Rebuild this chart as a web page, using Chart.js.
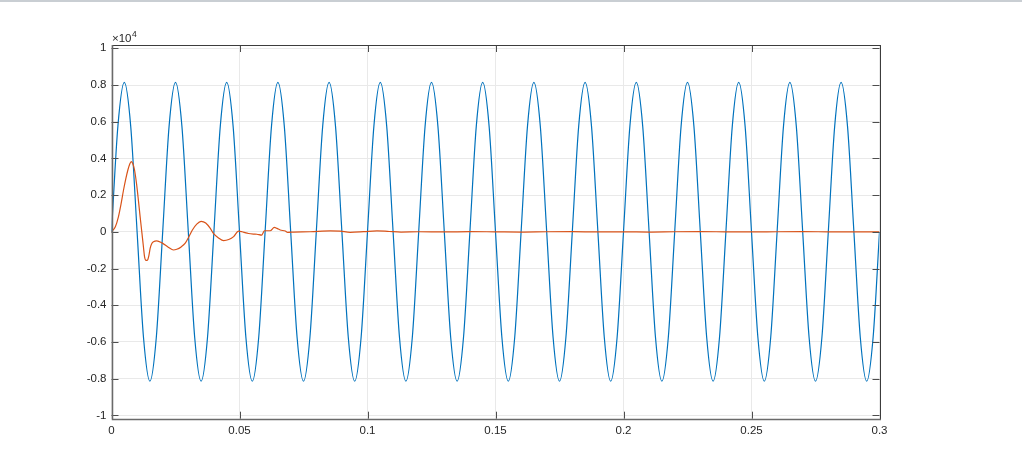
<!DOCTYPE html>
<html>
<head>
<meta charset="utf-8">
<script src="https://cdn.jsdelivr.net/npm/chart.js@4/dist/chart.umd.min.js"></script>
<style>
  html, body { margin: 0; padding: 0; background: #ffffff; }
  #wrap { position: relative; width: 1022px; height: 459px; }
  #topline { position: absolute; left: 0; top: 0; width: 1022px; height: 2px; background: #c9ced3; }
  canvas { display: block; }
</style>
</head>
<body>
<div id="wrap">
  <canvas id="c" width="1022" height="459"></canvas>
  <div id="topline"></div>
</div>
<script>
// ---- Data ----
const xTickValues = [0, 0.05, 0.1, 0.15, 0.2, 0.25, 0.3];
const xTickLabels = ['0', '0.05', '0.1', '0.15', '0.2', '0.25', '0.3'];
const yTickValues = [-10000, -8000, -6000, -4000, -2000, 0, 2000, 4000, 6000, 8000, 10000];
const yTickLabels = ['-1', '-0.8', '-0.6', '-0.4', '-0.2', '0', '0.2', '0.4', '0.6', '0.8', '1'];
const yExponentLabel = '\u00d710';
const yExponentPower = '4';

// Blue series: samples every 1/8 period
const blueT = [
  0, 0.0025, 0.005, 0.0075, 0.01, 0.0125, 0.015, 0.0175,
  0.02, 0.0225, 0.025, 0.0275, 0.03, 0.0325, 0.035, 0.0375,
  0.04, 0.0425, 0.045, 0.0475, 0.05, 0.0525, 0.055, 0.0575,
  0.06, 0.0625, 0.065, 0.0675, 0.07, 0.0725, 0.075, 0.0775,
  0.08, 0.0825, 0.085, 0.0875, 0.09, 0.0925, 0.095, 0.0975,
  0.1, 0.1025, 0.105, 0.1075, 0.11, 0.1125, 0.115, 0.1175,
  0.12, 0.1225, 0.125, 0.1275, 0.13, 0.1325, 0.135, 0.1375,
  0.14, 0.1425, 0.145, 0.1475, 0.15, 0.1525, 0.155, 0.1575,
  0.16, 0.1625, 0.165, 0.1675, 0.17, 0.1725, 0.175, 0.1775,
  0.18, 0.1825, 0.185, 0.1875, 0.19, 0.1925, 0.195, 0.1975,
  0.2, 0.2025, 0.205, 0.2075, 0.21, 0.2125, 0.215, 0.2175,
  0.22, 0.2225, 0.225, 0.2275, 0.23, 0.2325, 0.235, 0.2375,
  0.24, 0.2425, 0.245, 0.2475, 0.25, 0.2525, 0.255, 0.2575,
  0.26, 0.2625, 0.265, 0.2675, 0.27, 0.2725, 0.275, 0.2775,
  0.28, 0.2825, 0.285, 0.2875, 0.29, 0.2925, 0.295, 0.2975,
  0.3
];
const blueY = [
  0, 5760, 8140, 5760, 0, -5760, -8140, -5760,
  0, 5760, 8140, 5760, 0, -5760, -8140, -5760,
  0, 5760, 8140, 5760, 0, -5760, -8140, -5760,
  0, 5760, 8140, 5760, 0, -5760, -8140, -5760,
  0, 5760, 8140, 5760, 0, -5760, -8140, -5760,
  0, 5760, 8140, 5760, 0, -5760, -8140, -5760,
  0, 5760, 8140, 5760, 0, -5760, -8140, -5760,
  0, 5760, 8140, 5760, 0, -5760, -8140, -5760,
  0, 5760, 8140, 5760, 0, -5760, -8140, -5760,
  0, 5760, 8140, 5760, 0, -5760, -8140, -5760,
  0, 5760, 8140, 5760, 0, -5760, -8140, -5760,
  0, 5760, 8140, 5760, 0, -5760, -8140, -5760,
  0, 5760, 8140, 5760, 0, -5760, -8140, -5760,
  0, 5760, 8140, 5760, 0, -5760, -8140, -5760,
  0, 5760, 8140, 5760, 0, -5760, -8140, -5760,
  0
];

// Orange series: decaying transient
const orangeT = [
  0, 0.0015, 0.0027, 0.0037, 0.0047, 0.0056, 0.0064, 0.0071, 0.0077, 0.0083,
  0.009, 0.0098, 0.0105, 0.0112, 0.0119, 0.0125, 0.0129, 0.0133, 0.0138, 0.0142,
  0.0146, 0.0151, 0.0157, 0.0164, 0.0177, 0.0197, 0.0223, 0.0242, 0.0255, 0.0272,
  0.0288, 0.0303, 0.0316, 0.0333, 0.035, 0.0368, 0.0386, 0.0398, 0.0418, 0.0438,
  0.0458, 0.0477, 0.0496, 0.051, 0.0525, 0.0535, 0.0555, 0.0568, 0.0587, 0.0592,
  0.0597, 0.062, 0.0636, 0.0646, 0.0659, 0.0679, 0.0688, 0.0711, 0.0776, 0.0854,
  0.0893, 0.0932, 0.0985, 0.1037, 0.1085, 0.1131, 0.12, 0.13, 0.14, 0.15,
  0.16, 0.17, 0.18, 0.19, 0.2, 0.21, 0.22, 0.23, 0.24, 0.25,
  0.26, 0.27, 0.28, 0.29, 0.3
];
const orangeY = [
  0, 280, 820, 1500, 2280, 2900, 3370, 3680, 3830, 3720,
  3370, 2600, 1730, 800, -80, -850, -1350, -1530, -1550, -1500,
  -1300, -900, -650, -540, -490, -600, -850, -990, -950, -820,
  -620, -250, 100, 420, 570, 480, 190, -80, -330, -480,
  -420, -260, 40, 5, -60, -90, -120, -130, -180, -60,
  60, 60, 245, 190, 98, 44, -27, -10, 5, 55,
  40, -25, 10, 55, 20, -10, 5, -5, 10, 0,
  -10, 5, 10, -5, 0, -10, 5, 10, 0, -5,
  5, 10, 0, -5, 0
];

// ---- Chart ----
const TEXT = '#262626';
const FONT = "'Liberation Sans', Arial, sans-serif";

const framePlugin = {
  id: 'frame',
  afterDatasetsDraw(chart) {
    const { ctx, chartArea: a, scales } = chart;
    const xs = scales.x, ys = scales.y;
    ctx.save();
    // tick marks (inside, all four sides)
    ctx.strokeStyle = '#4d4d4d';
    ctx.lineWidth = 1;
    ctx.beginPath();
    xs.ticks.forEach(t => {
      const px = Math.round(xs.getPixelForValue(t.value)) + 0.5;
      ctx.moveTo(px, a.bottom); ctx.lineTo(px, a.bottom - 7);
      ctx.moveTo(px, a.top); ctx.lineTo(px, a.top + 7);
    });
    ys.ticks.forEach(t => {
      const py = Math.round(ys.getPixelForValue(t.value)) + 0.5;
      ctx.moveTo(a.left, py); ctx.lineTo(a.left + 7, py);
      ctx.moveTo(a.right, py); ctx.lineTo(a.right - 7, py);
    });
    ctx.stroke();
    // box
    ctx.strokeStyle = '#3c3c3c';
    ctx.beginPath();
    ctx.moveTo(Math.round(a.left) + 0.5, Math.round(a.top) + 0.5);
    ctx.lineTo(Math.round(a.right) + 0.5, Math.round(a.top) + 0.5);
    ctx.lineTo(Math.round(a.right) + 0.5, Math.round(a.bottom) + 0.5);
    ctx.stroke();
    ctx.strokeStyle = '#6a6a6a';
    ctx.lineWidth = 1.5;
    ctx.beginPath();
    ctx.moveTo(Math.round(a.left) + 0.5, Math.round(a.top));
    ctx.lineTo(Math.round(a.left) + 0.5, Math.round(a.bottom) + 0.5);
    ctx.lineTo(Math.round(a.right) + 1, Math.round(a.bottom) + 0.5);
    ctx.stroke();
    // exponent label
    ctx.fillStyle = TEXT;
    ctx.textBaseline = 'alphabetic';
    ctx.textAlign = 'left';
    ctx.font = '11.5px ' + FONT;
    const bx = a.left + 0.5, by = a.top - 3;
    ctx.fillText(yExponentLabel, bx, by);
    const w = ctx.measureText(yExponentLabel).width;
    ctx.font = '8.5px ' + FONT;
    ctx.fillText(yExponentPower, bx + w + 0.5, by - 5);
    ctx.restore();
  }
};

new Chart(document.getElementById('c'), {
  type: 'line',
  data: {
    datasets: [
      {
        label: 'orange',
        data: orangeT.map((t, i) => ({ x: t, y: orangeY[i] })),
        borderColor: '#D95319',
        borderWidth: 1.2,
        pointRadius: 0,
        fill: false,
        cubicInterpolationMode: 'monotone',
        order: 0
      },
      {
        label: 'blue',
        data: blueT.map((t, i) => ({ x: t, y: blueY[i] })),
        borderColor: '#0072BD',
        borderWidth: 1.2,
        pointRadius: 0,
        fill: false,
        cubicInterpolationMode: 'monotone',
        order: 1
      }
    ]
  },
  options: {
    responsive: false,
    animation: false,
    devicePixelRatio: 1,
    layout: { padding: { top: 45, right: 142.5, left: 0, bottom: 0 } },
    plugins: { legend: { display: false }, tooltip: { enabled: false } },
    scales: {
      x: {
        type: 'linear',
        min: 0, max: 0.3,
        afterBuildTicks: s => { s.ticks = xTickValues.map(v => ({ value: v })); },
        afterFit: s => { s.height = 40.3; },
        grid: { color: '#e9e9e9', lineWidth: 1, drawTicks: false },
        border: { display: false },
        ticks: {
          padding: 5,
          color: TEXT,
          font: { family: FONT, size: 11.5 },
          maxRotation: 0,
          autoSkip: false,
          callback: (v) => xTickLabels[xTickValues.findIndex(t => Math.abs(t - v) < 1e-9)]
        }
      },
      y: {
        type: 'linear',
        min: -10180, max: 10180,
        afterBuildTicks: s => { s.ticks = yTickValues.map(v => ({ value: v })); },
        afterFit: s => { s.width = 111.5; },
        grid: { color: '#e9e9e9', lineWidth: 1, drawTicks: false },
        border: { display: false },
        ticks: {
          padding: 5,
          color: TEXT,
          font: { family: FONT, size: 11.5 },
          autoSkip: false,
          callback: (v) => yTickLabels[yTickValues.indexOf(v)]
        }
      }
    }
  },
  plugins: [framePlugin]
});
</script>
</body>
</html>
